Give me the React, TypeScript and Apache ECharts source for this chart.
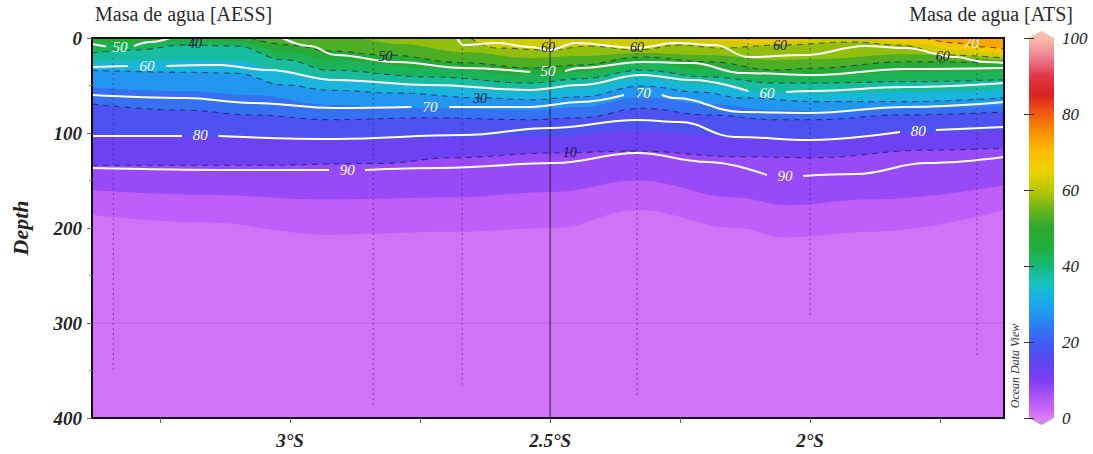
import React, { useEffect, useRef } from "react";
import * as echarts from "echarts";

const SERIF = '"Liberation Serif", "Times New Roman", Times, serif';

// ---------- axes ----------
const LAT_MIN = -3.381;
const LAT_MAX = -1.627;
const latLabelTicks = [-3, -2.5, -2];
const latAllTicks = [-3.25, -3, -2.75, -2.5, -2.25, -2, -1.75];
const DEPTH_MAX = 400;

// ---------- colour scale (ATS %) ----------
const paletteStops = [0, 2, 5, 10, 15, 20, 25, 30, 35, 40, 45, 50, 55, 60, 65, 70, 75, 80, 85, 90, 95, 100];
const paletteColors = [
  "#d783f2", "#cc69f8", "#b257f8", "#7e3df4", "#5c46f0", "#405ef2", "#2b84f2", "#1ba8ec",
  "#17c2c8", "#17b874", "#22ae3e", "#2ea82e", "#6db61c", "#b6c700", "#ecd300", "#fbbd00",
  "#f89200", "#f05c10", "#dd2222", "#e03848", "#ec8292", "#f7c0aa",
];

// ---------- ATS isolines: [latitude, depth] ----------
const ats03 = [[-3.381, 186], [-3.173, 194], [-2.923, 207], [-2.692, 204], [-2.492, 200], [-2.333, 181], [-2.14, 200], [-2.048, 210], [-1.885, 204], [-1.627, 181]];
const ats05 = [[-3.381, 160], [-3.173, 165], [-2.923, 170], [-2.692, 168], [-2.492, 162], [-2.333, 150], [-2.14, 168], [-2.048, 176], [-1.885, 170], [-1.627, 155]];
const ats10 = [[-3.381, 134], [-3.077, 134], [-2.827, 132], [-2.687, 126], [-2.492, 121], [-2.333, 119], [-2.14, 125], [-1.99, 126], [-1.775, 118], [-1.627, 116]];
const ats15 = [[-3.381, 102], [-3.077, 105], [-2.827, 107], [-2.687, 105], [-2.492, 103], [-2.333, 97], [-2.14, 104], [-1.99, 107], [-1.775, 99], [-1.627, 97]];
const ats20 = [[-3.381, 69.5], [-3.202, 76], [-3.073, 81], [-2.923, 86], [-2.731, 84], [-2.538, 86], [-2.442, 84], [-2.323, 74], [-2.196, 81], [-2.067, 86], [-1.99, 86], [-1.827, 81], [-1.627, 78]];
const ats25 = [[-3.381, 52], [-3.202, 56], [-3.073, 60], [-2.923, 70.5], [-2.731, 74], [-2.538, 76], [-2.442, 72.6], [-2.323, 62], [-2.196, 69.5], [-2.067, 76], [-1.99, 77], [-1.827, 74], [-1.627, 70.5]];
const ats30 = [[-3.381, 34], [-3.202, 36], [-3.106, 37], [-3.01, 49.5], [-2.923, 55], [-2.794, 58], [-2.635, 63], [-2.538, 65], [-2.442, 62], [-2.323, 50.5], [-2.212, 57], [-2.131, 63], [-1.99, 67], [-1.817, 67], [-1.627, 63]];
const ats35 = [[-3.381, 25], [-3.202, 23], [-3.106, 24], [-3.01, 36], [-2.923, 44], [-2.731, 50.5], [-2.538, 57], [-2.442, 52.6], [-2.323, 42], [-2.196, 49.5], [-2.067, 57], [-1.99, 58], [-1.817, 57], [-1.627, 54]];
const ats40 = [[-3.381, 16], [-3.298, 12.6], [-3.202, 7.4], [-3.106, 8.4], [-3.01, 23], [-2.923, 34], [-2.731, 41], [-2.538, 47.4], [-2.442, 43], [-2.323, 34], [-2.196, 41], [-2.067, 47.4], [-1.99, 47.4], [-1.817, 46], [-1.627, 44]];
const ats45 = [[-3.381, 7.4], [-3.298, 5.3], [-3.202, 3.2], [-3.106, 4.2], [-3.01, 14.7], [-2.923, 23], [-2.731, 31.6], [-2.538, 39], [-2.442, 36], [-2.323, 26], [-2.196, 32.6], [-2.067, 40], [-1.99, 40], [-1.817, 36], [-1.627, 35]];
const ats50 = [[-3.077, 0], [-3.0, 7.4], [-2.923, 13.7], [-2.813, 18], [-2.667, 26], [-2.538, 31.6], [-2.442, 28.4], [-2.323, 20], [-2.196, 25], [-2.067, 33.7], [-1.99, 31.6], [-1.817, 25], [-1.627, 26]];
const ats55 = [[-2.865, 0], [-2.788, 6.3], [-2.667, 14.7], [-2.538, 21], [-2.442, 19], [-2.323, 15.8], [-2.196, 18], [-2.067, 23], [-1.99, 22], [-1.817, 17], [-1.627, 24]];
const ats60 = [[-2.654, 0], [-2.602, 10.5], [-2.504, 12.6], [-2.423, 8.4], [-2.333, 12.6], [-2.25, 7.4], [-2.173, 10.5], [-2.058, 7.4], [-1.923, 4.2], [-1.827, 7.4], [-1.731, 18], [-1.627, 21]];
const ats65a = [[-2.231, 0], [-2.173, 3.2], [-2.096, 5.3], [-2.019, 3.2], [-1.99, 0]];
const ats65b = [[-1.885, 0], [-1.788, 6.3], [-1.712, 12.6], [-1.627, 16.8]];
const ats70 = [[-1.779, 0], [-1.721, 5.3], [-1.663, 9.5], [-1.627, 11.6]];

// ---------- AESS isolines (white), '-' = gap for a label ----------
const aess40 = [[-2.679, 0], [-2.667, 7.4], [-2.602, 5.3], [-2.538, 9.5], [-2.5, 12.6], [-2.452, 5.3], [-2.333, 10.5], [-2.26, 5.3], [-2.183, 7.4], [-2.119, 20], [-2.01, 18], [-1.894, 8.4], [-1.817, 10.5], [-1.721, 20], [-1.663, 25.3], [-1.627, 26.3]];
const aess50 = [[-3.381, 6.3], [-3.354, 8.9], [-3.327, "-"], [-3.3, 8.4], [-3.269, 4.2], [-3.231, 0], [-3.15, "-"], [-3.015, 0], [-2.962, 8.4], [-2.913, 17.9], [-2.794, 25.3], [-2.667, 31.6], [-2.538, 35.8], [-2.504, "-"], [-2.471, 34.7], [-2.442, 31.6], [-2.323, 25.3], [-2.227, 26.3], [-2.131, 36.8], [-1.99, 38.9], [-1.817, 32.6], [-1.627, 31.6]];
const aess60 = [[-3.381, 30.5], [-3.312, 29.5], [-3.275, "-"], [-3.238, 29.5], [-3.138, 28.4], [-3.042, 33.7], [-2.913, 44.2], [-2.731, 49.5], [-2.538, 54.7], [-2.442, 49.5], [-2.323, 38.9], [-2.227, 44.2], [-2.119, 55.8], [-2.083, "-"], [-2.046, 56.8], [-1.99, 55.8], [-1.817, 51.6], [-1.627, 47.4]];
const aess70 = [[-3.381, 60], [-3.202, 63.2], [-3.073, 68.4], [-2.913, 73.7], [-2.767, 72.6], [-2.731, "-"], [-2.694, 72.6], [-2.538, 72.6], [-2.442, 67.4], [-2.358, 60], [-2.321, "-"], [-2.285, 60], [-2.26, 63.2], [-2.131, 77.9], [-2.0, 78.9], [-1.817, 72.6], [-1.627, 67.4]];
const aess80 = [[-3.381, 103.2], [-3.208, 103.2], [-3.173, "-"], [-3.138, 103.2], [-2.913, 106.3], [-2.667, 102.1], [-2.5, 94.7], [-2.333, 86.3], [-2.25, 88.4], [-2.144, 104.2], [-2.0, 107.4], [-1.827, 98.9], [-1.792, "-"], [-1.758, 96.8], [-1.627, 93.7]];
const aess90 = [[-3.381, 136.8], [-3.11, 138.9], [-2.925, 138.9], [-2.89, "-"], [-2.856, 138.9], [-2.71, 136.8], [-2.492, 131.6], [-2.333, 121.1], [-2.196, 130.5], [-2.083, 144.2], [-2.048, "-"], [-2.013, 145.3], [-1.912, 143.2], [-1.775, 131.6], [-1.627, 125.3]];

// ---------- contour labels: [text, latitude, depth] ----------
const whiteLabels = [
  ["50", -3.327, 9.5], ["60", -3.275, 29], ["80", -3.173, 102.6], ["90", -2.89, 138.9],
  ["70", -2.731, 72.6], ["50", -2.504, 34.7], ["70", -2.321, 58], ["60", -2.083, 57.4],
  ["80", -1.792, 97.9], ["90", -2.048, 145], ["70", -1.69, 5],
];
const darkLabels = [
  ["40", -3.183, 5.3], ["50", -2.817, 19], ["30", -2.635, 63.2], ["60", -2.504, 10.5],
  ["60", -2.333, 9.5], ["60", -2.058, 7.4], ["60", -1.745, 19], ["10", -2.462, 121],
];

// ---------- station casts ----------
const stationLat = [-3.34, -2.84, -2.669, -2.5, -2.333, -2.119, -2.0, -1.679];
const stationDepth = [349, 386, 365, 400, 376, 39, 295, 334];

function hexToRgb(h: string) {
  const n = parseInt(h.slice(1), 16);
  return [(n >> 16) & 255, (n >> 8) & 255, n & 255];
}
function colorAt(v: number) {
  for (let i = 0; i < paletteStops.length - 1; i++) {
    if (v >= paletteStops[i] && v <= paletteStops[i + 1]) {
      const t = (v - paletteStops[i]) / (paletteStops[i + 1] - paletteStops[i]);
      const a = hexToRgb(paletteColors[i]);
      const b = hexToRgb(paletteColors[i + 1]);
      const c = a.map((x, k) => Math.round(x + (b[k] - x) * t));
      return `rgb(${c[0]},${c[1]},${c[2]})`;
    }
  }
  return paletteColors[paletteColors.length - 1];
}

export default function App() {
  const ref = useRef<HTMLDivElement>(null);

  useEffect(() => {
    if (!ref.current) return;
    const chart = echarts.init(ref.current, null, { renderer: "svg" });

    const fills = [
      { level: 2.5, top: 5, data: ats03, dashed: false },
      { level: 5, top: 10, data: ats05, dashed: false },
      { level: 10, top: 15, data: ats10, dashed: true },
      { level: 15, top: 20, data: ats15, dashed: false },
      { level: 20, top: 25, data: ats20, dashed: true },
      { level: 25, top: 30, data: ats25, dashed: false },
      { level: 30, top: 35, data: ats30, dashed: true },
      { level: 35, top: 40, data: ats35, dashed: false },
      { level: 40, top: 45, data: ats40, dashed: true },
      { level: 45, top: 50, data: ats45, dashed: false },
      { level: 50, top: 55, data: ats50, dashed: true },
      { level: 55, top: 60, data: ats55, dashed: false },
      { level: 60, top: 65, data: ats60, dashed: true },
      { level: 65, top: 70, data: ats65a, dashed: false },
      { level: 65, top: 70, data: ats65b, dashed: false },
      { level: 70, top: 75, data: ats70, dashed: true },
    ];

    const fillSeries = fills.map((f) => ({
      type: "line",
      data: f.data,
      smooth: 0.4,
      smoothMonotone: "x",
      symbol: "none",
      silent: true,
      lineStyle: f.dashed
        ? { color: "rgba(18,16,60,0.6)", width: 1.1, type: [6, 5] }
        : { width: 0 },
      areaStyle: { color: colorAt((f.level + f.top) / 2), opacity: 1, origin: "start" },
    }));

    const whiteSeries = [aess40, aess50, aess60, aess70, aess80, aess90].map((d) => ({
      type: "line",
      data: d,
      smooth: 0.4,
      smoothMonotone: "x",
      symbol: "none",
      silent: true,
      connectNulls: false,
      lineStyle: { color: "#ffffff", width: 2 },
    }));

    const stationSeries = stationLat.map((lat, i) => ({
      type: "line",
      data: [[lat, 0], [lat, stationDepth[i]]],
      symbol: "none",
      silent: true,
      lineStyle:
        stationDepth[i] >= DEPTH_MAX
          ? { color: "#1a1420", width: 1, type: "solid", opacity: 0.9 }
          : { color: "#2a2040", width: 1, type: [2, 3], opacity: 0.5 },
    }));

    const labelSeries = (labels: any[], color: string, size: number) => ({
      type: "custom",
      silent: true,
      data: labels.map((l) => [l[1], l[2]]),
      renderItem: (params: any, api: any) => {
        const p = api.coord([api.value(0), api.value(1)]);
        return {
          type: "text",
          x: p[0],
          y: p[1],
          style: {
            text: labels[params.dataIndex][0],
            fill: color,
            fontFamily: SERIF,
            fontStyle: "italic",
            fontSize: size,
            align: "center",
            verticalAlign: "middle",
          },
        };
      },
      z: 5,
    });

    const cbStops = paletteStops.map((s, i) => ({ offset: s / 100, color: paletteColors[i] }));

    const option: any = {
      animation: false,
      backgroundColor: "#ffffff",
      grid: [
        { left: 92, top: 38, width: 912, height: 380, show: true, backgroundColor: colorAt(1.25), borderWidth: 0 },
        { left: 1029, top: 38, width: 25, height: 380 },
      ],
      xAxis: [
        {
          type: "value",
          gridIndex: 0,
          min: LAT_MIN,
          max: LAT_MAX,
          position: "bottom",
          axisLine: { show: true, onZero: false, lineStyle: { color: "#140a1e", width: 2 } },
          axisTick: { show: true, customValues: latAllTicks, length: 5, lineStyle: { color: "#666" } },
          axisLabel: {
            customValues: latLabelTicks,
            formatter: (v: number) => `${Math.abs(v)}°S`,
            fontFamily: SERIF,
            fontStyle: "italic",
            fontWeight: "bold",
            fontSize: 19,
            color: "#222",
            margin: 13,
          },
          splitLine: { show: false },
          z: 10,
        },
        {
          type: "value",
          gridIndex: 0,
          min: LAT_MIN,
          max: LAT_MAX,
          position: "top",
          axisLine: { show: true, onZero: false, lineStyle: { color: "#140a1e", width: 2 } },
          axisTick: { show: false },
          axisLabel: { show: false },
          splitLine: { show: false },
          z: 10,
        },
        { type: "value", gridIndex: 1, min: 0, max: 1, show: false },
      ],
      yAxis: [
        {
          type: "value",
          gridIndex: 0,
          min: 0,
          max: DEPTH_MAX,
          interval: 100,
          inverse: true,
          name: "Depth",
          nameLocation: "middle",
          nameGap: 61,
          nameRotate: 90,
          nameTextStyle: { fontFamily: SERIF, fontStyle: "italic", fontWeight: "bold", fontSize: 22, color: "#222" },
          axisLine: { show: true, onZero: false, lineStyle: { color: "#140a1e", width: 2 } },
          axisTick: { show: true, length: 5, lineStyle: { color: "#666" } },
          minorTick: { show: true, splitNumber: 2, length: 3, lineStyle: { color: "#888" } },
          axisLabel: { fontFamily: SERIF, fontStyle: "italic", fontWeight: "bold", fontSize: 19, color: "#222", margin: 10 },
          splitLine: { show: false },
          z: 10,
        },
        {
          type: "value",
          gridIndex: 0,
          min: 0,
          max: DEPTH_MAX,
          inverse: true,
          position: "right",
          axisLine: { show: true, onZero: false, lineStyle: { color: "#140a1e", width: 2 } },
          axisTick: { show: false },
          axisLabel: { show: false },
          splitLine: { show: false },
          z: 10,
        },
        {
          type: "value",
          gridIndex: 1,
          min: 0,
          max: 100,
          interval: 20,
          position: "right",
          axisLine: { show: false },
          axisTick: { show: true, inside: true, length: 5, lineStyle: { color: "#333" } },
          axisLabel: { fontFamily: SERIF, fontStyle: "italic", fontSize: 17, color: "#222", margin: 8 },
          splitLine: { show: false },
          z: 5,
        },
        {
          type: "value",
          gridIndex: 1,
          min: 0,
          max: 100,
          interval: 20,
          position: "left",
          axisLine: { show: false },
          axisTick: { show: true, inside: true, length: 5, lineStyle: { color: "#333" } },
          axisLabel: { show: false },
          splitLine: { show: false },
          z: 5,
        },
      ],
      graphic: [
        {
          type: "text",
          left: 95,
          top: 4,
          style: { text: "Masa de agua [AESS]", fontFamily: SERIF, fontSize: 20, fill: "#2a2a2a" },
        },
        {
          type: "text",
          right: 20,
          top: 4,
          style: { text: "Masa de agua [ATS]", fontFamily: SERIF, fontSize: 20, fill: "#2a2a2a" },
        },
        {
          type: "text",
          x: 1015,
          y: 366,
          rotation: Math.PI / 2,
          style: {
            text: "Ocean Data View",
            fontFamily: SERIF,
            fontStyle: "italic",
            fontSize: 12,
            fill: "#333",
            align: "center",
            verticalAlign: "middle",
          },
        },
      ],
      series: [
        ...fillSeries,
        {
          type: "line",
          data: [[LAT_MIN, 300], [LAT_MAX, 300]],
          symbol: "none",
          silent: true,
          lineStyle: { color: "rgba(60,0,90,0.14)", width: 1 },
        },
        ...stationSeries,
        ...whiteSeries,
        labelSeries(whiteLabels, "#ffffff", 15),
        labelSeries(darkLabels, "#1a1840", 14),
        {
          type: "custom",
          xAxisIndex: 2,
          yAxisIndex: 2,
          silent: true,
          data: [[0, 0]],
          renderItem: (_p: any, api: any) => {
            const bl = api.coord([0, 0]);
            const tr = api.coord([1, 100]);
            const l = bl[0], b = bl[1], r = tr[0], t = tr[1], m = (l + r) / 2;
            return {
              type: "polygon",
              shape: { points: [[l, b], [l, t], [m, t - 7], [r, t], [r, b], [m, b + 7]] },
              style: { fill: new echarts.graphic.LinearGradient(0, b, 0, t, cbStops, true) },
            };
          },
          z: 2,
        },
      ],
    };

    chart.setOption(option);
    return () => chart.dispose();
  }, []);

  return (
    <div
      ref={ref}
      style={{ position: "absolute", left: 0, top: 0, width: "1093px", height: "454px", background: "#fff" }}
    />
  );
}
